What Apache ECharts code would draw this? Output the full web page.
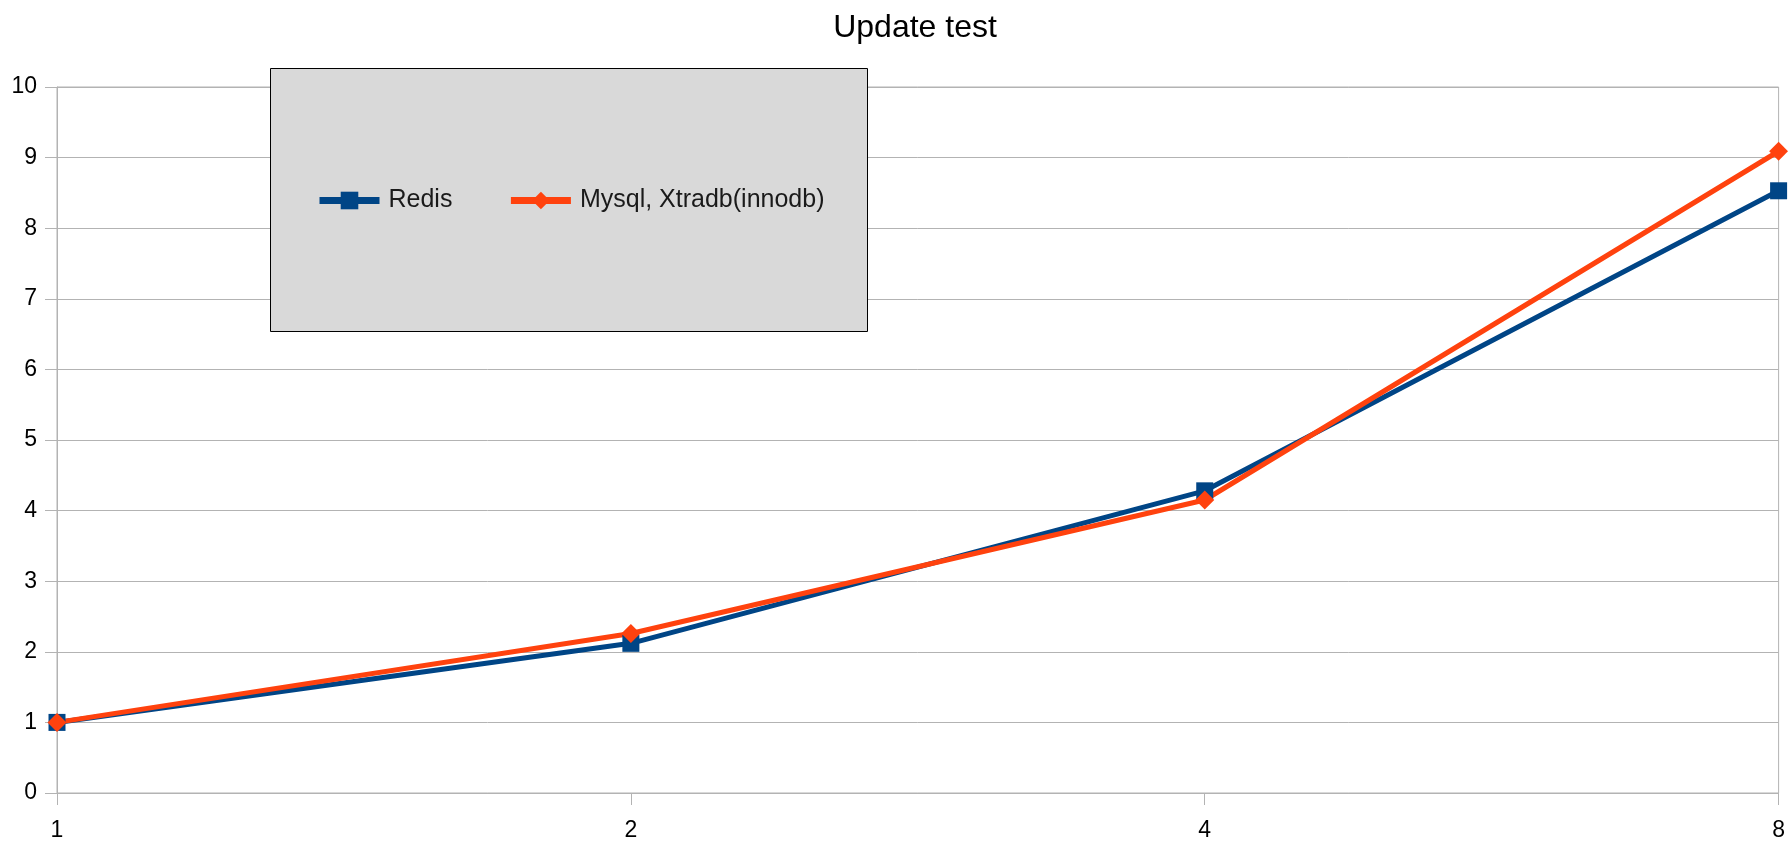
<!DOCTYPE html>
<html>
<head>
<meta charset="utf-8">
<script src="https://cdn.jsdelivr.net/npm/echarts@6/dist/echarts.min.js"></script>
<style>
  html, body { margin: 0; padding: 0; background: #fff; }
  #chart { width: 1788px; height: 842px; }
</style>
</head>
<body>
<div id="chart"></div>
<script>
const categories = ['1', '2', '4', '8'];
const redisValues = [1, 2.12, 4.28, 8.53];
const mysqlValues = [1, 2.26, 4.15, 9.09];
const yTicks = { min: 0, max: 10, interval: 1 };

const font = '"Liberation Sans", Arial, sans-serif';
const gridColor = '#b3b3b3';

const chart = echarts.init(document.getElementById('chart'));
chart.setOption({
  animation: false,
  title: {
    text: 'Update test',
    left: 910,
    top: 7,
    textAlign: 'center',
    textStyle: { fontFamily: font, fontSize: 32, fontWeight: 'normal', color: '#000' }
  },
  grid: {
    left: 57,
    right: 3,
    top: 87,
    bottom: 46,
    show: true,
    borderColor: gridColor,
    borderWidth: 1,
    containLabel: false
  },
  graphic: [{
    type: 'rect',
    left: 270,
    top: 68,
    z: 10,
    shape: { width: 597, height: 263 },
    style: { fill: '#d9d9d9', stroke: '#000', lineWidth: 1 }
  }],
  legend: {
    left: 316,
    top: 188,
    padding: 0,
    z: 20,
    itemWidth: 60,
    itemHeight: 22,
    itemGap: 55,
    lineStyle: { width: 7 },
    textStyle: { fontFamily: font, fontSize: 25, color: '#1a1a1a', padding: [0, 0, 0, 4] },
    data: ['Redis', 'Mysql, Xtradb(innodb)']
  },
  xAxis: {
    type: 'category',
    data: categories,
    boundaryGap: false,
    axisLine: { lineStyle: { color: gridColor, width: 1 } },
    axisTick: { show: true, length: 12, inside: false, lineStyle: { color: gridColor } },
    axisLabel: { fontFamily: font, fontSize: 23, color: '#000', margin: 26 },
    splitLine: { show: false }
  },
  yAxis: {
    type: 'value',
    min: yTicks.min,
    max: yTicks.max,
    interval: yTicks.interval,
    axisLine: { show: true, lineStyle: { color: gridColor, width: 1 } },
    axisTick: { show: true, length: 12, lineStyle: { color: gridColor } },
    axisLabel: { fontFamily: font, fontSize: 23, color: '#000', margin: 20 },
    splitLine: { show: true, lineStyle: { color: gridColor, width: 1 } }
  },
  series: [
    {
      name: 'Redis',
      type: 'line',
      data: redisValues,
      symbol: 'rect',
      symbolSize: 17,
      color: '#004586',
      lineStyle: { width: 5, color: '#004586' },
      itemStyle: { color: '#004586' }
    },
    {
      name: 'Mysql, Xtradb(innodb)',
      type: 'line',
      data: mysqlValues,
      symbol: 'diamond',
      symbolSize: 19,
      color: '#ff420e',
      lineStyle: { width: 5, color: '#ff420e' },
      itemStyle: { color: '#ff420e' }
    }
  ]
});
</script>
</body>
</html>
